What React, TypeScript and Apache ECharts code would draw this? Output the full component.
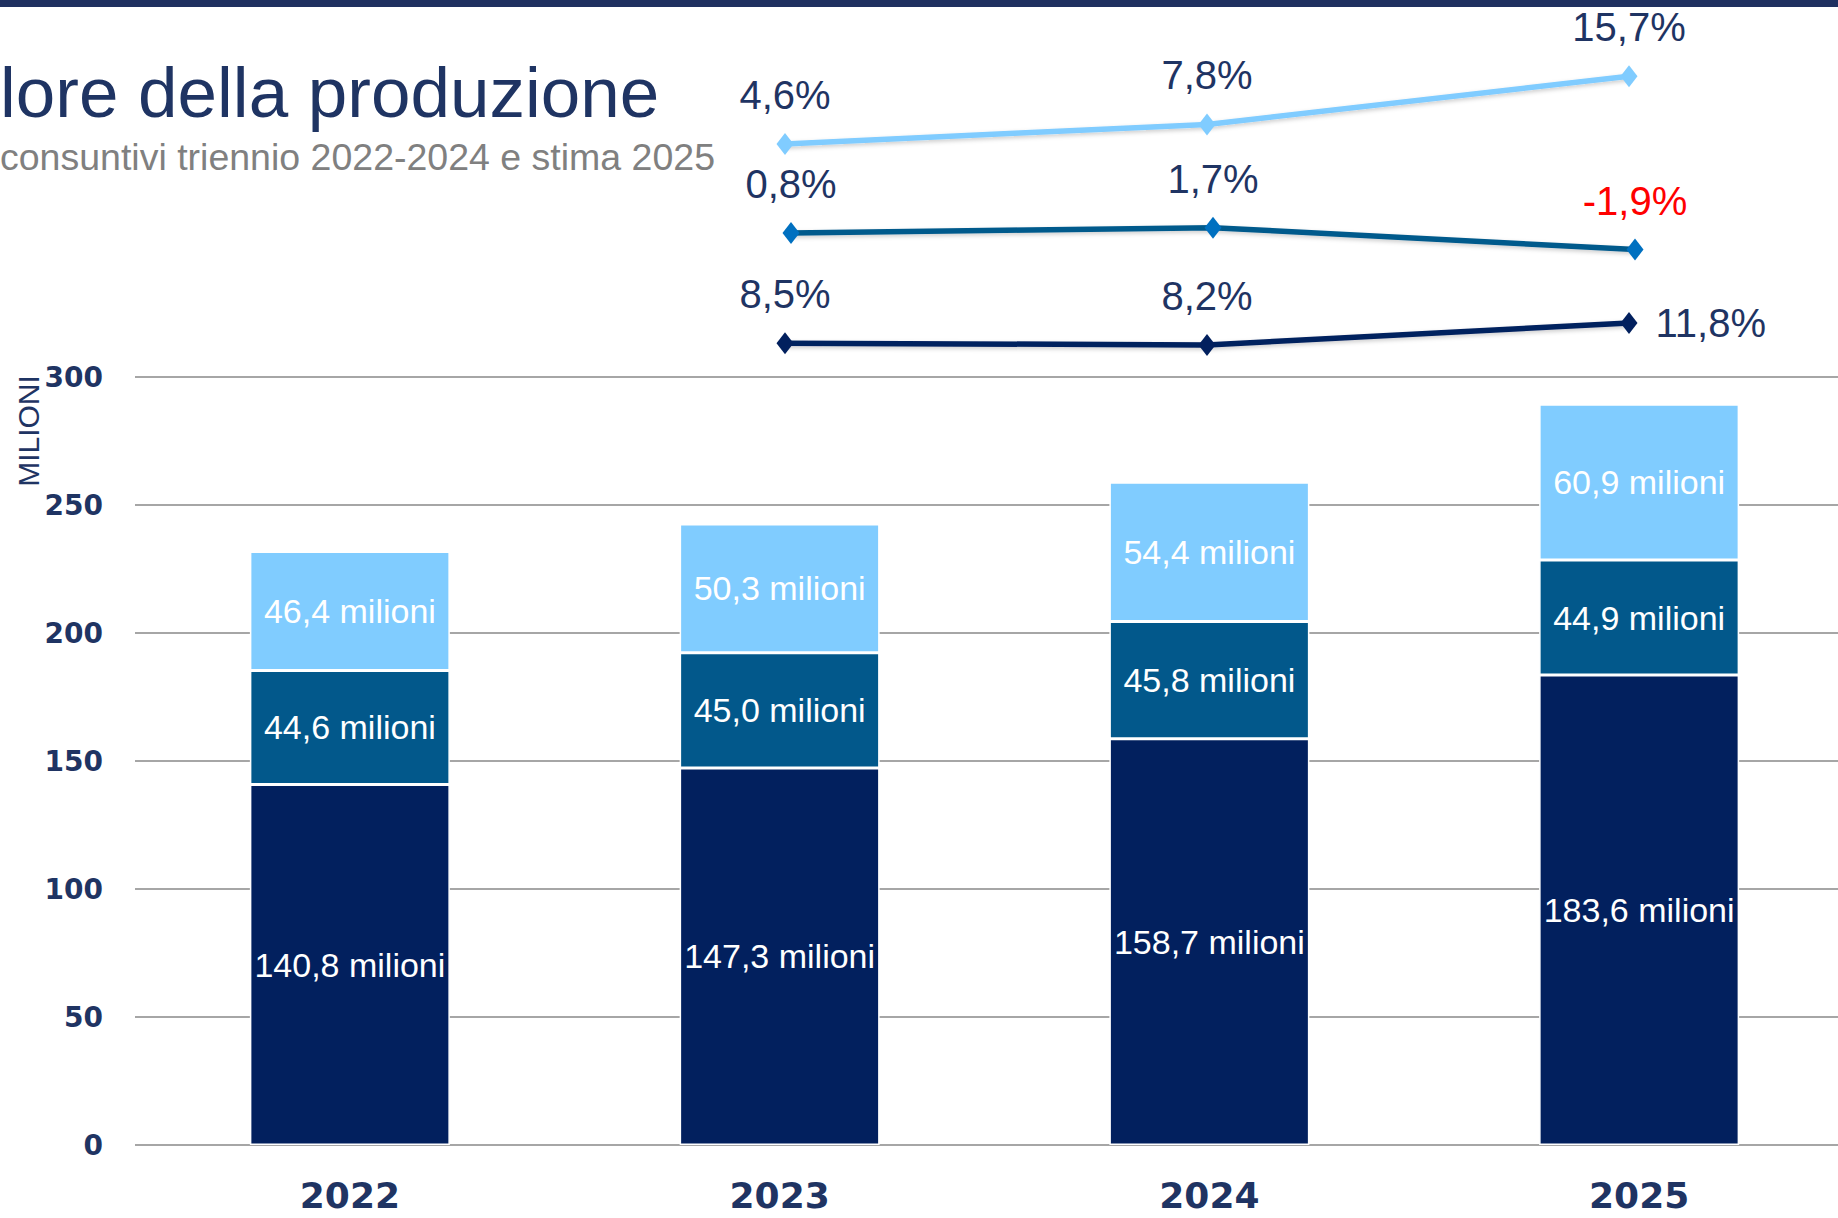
import React, { useEffect, useRef } from 'react';
import * as echarts from 'echarts';

const NAVY = '#1f3463';
const DARK = '#02205e';
const MID = '#02588b';
const LIGHT = '#80ccff';
const GRIDC = '#a6a6a6';
const SANS = "'Liberation Sans', Arial, sans-serif";
const BOLD = "'DejaVu Sans', Verdana, sans-serif";

const years = ['2022', '2023', '2024', '2025'];
const baseValues = [140.8, 147.3, 158.7, 183.6];
const midValues = [44.6, 45.0, 45.8, 44.9];
const topValues = [46.4, 50.3, 54.4, 60.9];

// growth rates shown as three separate lines (2023-2025)
const growthLight: (number | string)[] = ['-', 4.6, 7.8, 15.7];
const growthMid: (number | string)[] = ['-', 0.8, 1.7, -1.9];
const growthDark: (number | string)[] = ['-', 8.5, 8.2, 11.8];

const yMin = 0;
const yMax = 300;
const yInterval = 50;

const fmtMil = (v: number) => v.toFixed(1).replace('.', ',') + ' milioni';
const fmtPct = (v: number) => v.toFixed(1).replace('.', ',') + '%';

function barSeries(name: string, data: number[], color: string) {
  return {
    name,
    type: 'bar',
    stack: 'tot',
    xAxisIndex: 0,
    yAxisIndex: 0,
    barWidth: 200,
    data,
    itemStyle: { color, borderColor: '#ffffff', borderWidth: 1.5 },
    label: {
      show: true,
      position: 'inside',
      color: '#ffffff',
      fontSize: 34,
      fontFamily: SANS,
      formatter: (p: any) => fmtMil(p.value),
    },
  };
}

function lineSeries(
  name: string,
  idx: number,
  data: (number | string)[],
  lineColor: string,
  markerColor: string,
  lastRight = false
) {
  return {
    name,
    type: 'line',
    xAxisIndex: idx,
    yAxisIndex: idx,
    symbol: 'diamond',
    symbolSize: [17, 22],
    lineStyle: {
      color: lineColor,
      width: 5.5,
      shadowColor: 'rgba(0,0,0,0.2)',
      shadowBlur: 4,
      shadowOffsetY: 2,
    },
    itemStyle: { color: markerColor },
    label: {
      show: true,
      position: 'top',
      distance: 18,
      fontSize: 40,
      fontFamily: SANS,
      color: NAVY,
      formatter: (p: any) => fmtPct(p.value),
    },
    data: data.map((v, i) => {
      if (typeof v !== 'number') return v;
      const lab: any = {};
      if (v < 0) lab.color = '#ff0000';
      if (lastRight && i === data.length - 1) {
        lab.position = 'right';
        lab.distance = 18;
      }
      return { value: v, label: lab };
    }),
  };
}

const lineGrids = [
  { left: 152, width: 1688, top: 50, height: 122, min: 0, max: 20 },
  { left: 158, width: 1688, top: 207.5, height: 61, min: -5, max: 5 },
  { left: 152, width: 1688, top: 303.5, height: 91.5, min: 0, max: 15 },
];

const option: any = {
  animation: false,
  backgroundColor: '#ffffff',
  grid: [
    { left: 135, width: 1719, top: 377, bottom: 73, containLabel: false },
    ...lineGrids.map((g) => ({ left: g.left, width: g.width, top: g.top, height: g.height })),
  ],
  xAxis: [
    {
      type: 'category',
      gridIndex: 0,
      data: years,
      axisLine: { show: false },
      axisTick: { show: false },
      axisLabel: {
        color: NAVY,
        fontFamily: BOLD,
        fontWeight: 'bold',
        fontSize: 36,
        margin: 32,
      },
    },
    ...lineGrids.map((_, i) => ({
      type: 'category',
      gridIndex: i + 1,
      data: years,
      show: false,
    })),
  ],
  yAxis: [
    {
      type: 'value',
      gridIndex: 0,
      min: yMin,
      max: yMax,
      interval: yInterval,
      axisLine: { show: false },
      axisTick: { show: false },
      splitLine: { lineStyle: { color: GRIDC, width: 2 } },
      axisLabel: {
        color: NAVY,
        fontFamily: BOLD,
        fontWeight: 'bold',
        fontSize: 28,
        margin: 32,
      },
    },
    ...lineGrids.map((g, i) => ({
      type: 'value',
      gridIndex: i + 1,
      min: g.min,
      max: g.max,
      show: false,
      splitLine: { show: false },
    })),
  ],
  graphic: [
    { type: 'rect', shape: { x: 0, y: 0, width: 1860, height: 7 }, style: { fill: '#1f3060' } },
    {
      type: 'text',
      x: 0,
      y: 92,
      style: {
        text: 'lore della produzione',
        fontSize: 71,
        fontFamily: SANS,
        fill: NAVY,
        align: 'left',
        verticalAlign: 'middle',
      },
    },
    {
      type: 'text',
      x: 0,
      y: 157,
      style: {
        text: 'consuntivi triennio 2022-2024 e stima 2025',
        fontSize: 37.5,
        fontFamily: SANS,
        fill: '#808080',
        align: 'left',
        verticalAlign: 'middle',
      },
    },
    {
      type: 'text',
      x: 28,
      y: 431,
      rotation: Math.PI / 2,
      style: {
        text: 'MILIONI',
        fontSize: 30,
        fontFamily: SANS,
        fill: NAVY,
        align: 'center',
        verticalAlign: 'middle',
      },
    },
  ],
  series: [
    barSeries('Base', baseValues, DARK),
    barSeries('Intermedio', midValues, MID),
    barSeries('Superiore', topValues, LIGHT),
    lineSeries('Crescita 1', 1, growthLight, LIGHT, LIGHT),
    lineSeries('Crescita 2', 2, growthMid, '#005a8c', '#0070c0'),
    lineSeries('Crescita 3', 3, growthDark, DARK, DARK, true),
  ],
};

export default function App() {
  const ref = useRef<HTMLDivElement>(null);
  useEffect(() => {
    document.body.style.margin = '0';
    document.body.style.overflow = 'hidden';
    const chart = echarts.init(ref.current!, null, { renderer: 'svg' });
    chart.setOption(option);
    return () => chart.dispose();
  }, []);
  return (
    <div
      style={{
        position: 'absolute',
        left: 0,
        top: 0,
        width: 1838,
        height: 1218,
        overflow: 'hidden',
      }}
    >
      <div ref={ref} style={{ width: 1860, height: 1218 }} />
    </div>
  );
}
